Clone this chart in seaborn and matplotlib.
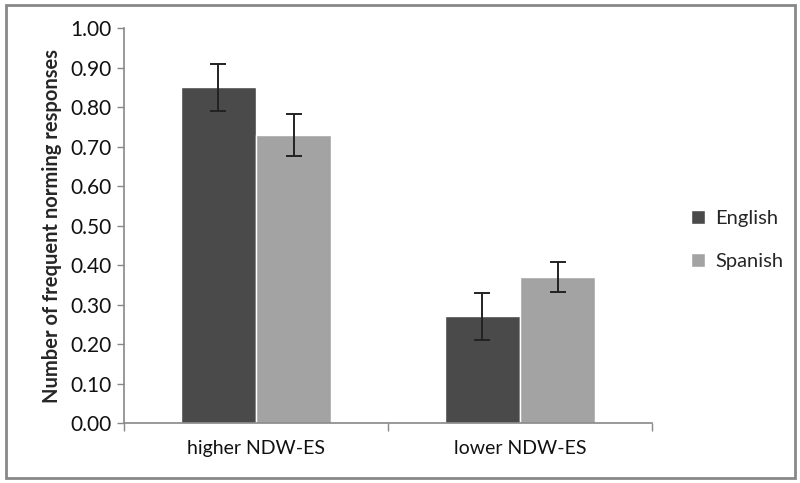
import numpy as np
import pandas as pd
import seaborn as sns
import matplotlib.pyplot as plt
from matplotlib.patches import Rectangle
from matplotlib.ticker import FixedLocator, MultipleLocator

groups = ["higher NDW-ES", "lower NDW-ES"]
languages = ["English", "Spanish"]
english_means = [0.85, 0.27]
spanish_means = [0.73, 0.37]
english_err = [0.06, 0.06]
spanish_err = [0.053, 0.038]

df = pd.DataFrame({
    "group": groups * 2,
    "language": ["English"] * 2 + ["Spanish"] * 2,
    "value": english_means + spanish_means,
    "err": english_err + spanish_err,
})

sns.set_style("white")
plt.rcParams["font.family"] = ["Lato", "DejaVu Sans"]

fig = plt.figure(figsize=(8, 4.83), dpi=100)
ax = fig.add_axes([0.155, 0.124, 0.66, 0.818])

sns.barplot(data=df, x="group", y="value", hue="language", order=groups,
            hue_order=languages, palette=["#4a4a4a", "#a3a3a3"],
            width=0.57, errorbar=None, saturation=1, ax=ax)

# error bars at the centres of the drawn bars
for cont, lang in zip(ax.containers, languages):
    sub = df[df.language == lang].set_index("group").loc[groups]
    xs = [p.get_x() + p.get_width() / 2 for p in cont.patches]
    ax.errorbar(xs, sub["value"], yerr=sub["err"], fmt="none",
                ecolor="#222222", elinewidth=1.4, capsize=6, capthick=1.4)

ax.set_xlim(-0.5, 1.5)
ax.set_ylim(0, 1.0)
ax.yaxis.set_major_locator(MultipleLocator(0.1))
ax.set_yticklabels([f"{v:.2f}" for v in ax.get_yticks()])
ax.xaxis.set_minor_locator(FixedLocator([-0.5, 0.5, 1.5]))

for s in ["top", "right"]:
    ax.spines[s].set_visible(False)
for s in ["left", "bottom"]:
    ax.spines[s].set_color("#888888")
    ax.spines[s].set_linewidth(1.2)

ax.tick_params(axis="y", which="major", direction="out", length=5, width=1,
               color="#888888", labelsize=15, pad=4, left=True,
               labelcolor="#111111")
ax.tick_params(axis="x", which="major", length=0, labelsize=14, pad=12,
               labelcolor="#111111")
ax.tick_params(axis="x", which="minor", direction="out", length=6, width=1,
               color="#888888", bottom=True)

ax.set_xlabel("")
ax.set_ylabel("Number of frequent norming responses", fontsize=14.5,
              fontweight="bold", labelpad=6)

leg = ax.legend(title=None, frameon=False, fontsize=14.5, loc="center left",
                bbox_to_anchor=(1.04, 0.463), handlelength=0.7,
                handleheight=0.7, handletextpad=0.5, labelspacing=1.3)

fig.patches.append(Rectangle((0.008, 0.01), 0.986, 0.98, transform=fig.transFigure,
                             fill=False, edgecolor="#888888", linewidth=2))

fig.savefig("out.png", dpi=100)
